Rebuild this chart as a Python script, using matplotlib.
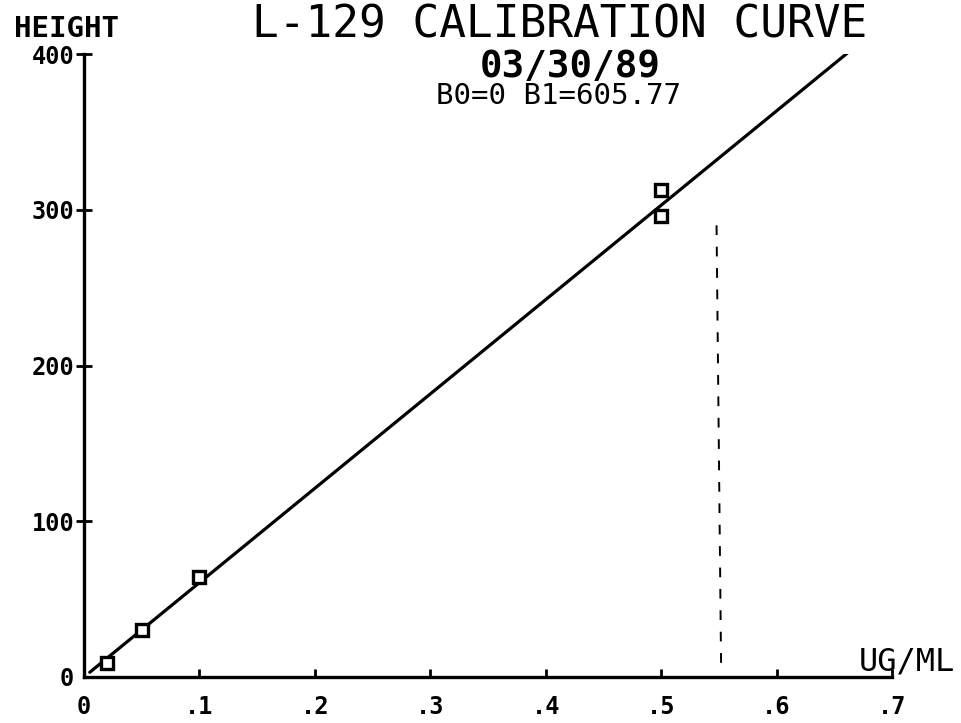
import matplotlib.pyplot as plt
import numpy as np

# calibration points
conc = [0.02, 0.05, 0.10, 0.50, 0.50]
height = [9, 30, 64, 313, 296]

# fitted line Y = B0 + B1 * X
b0 = 0
b1 = 605.77
fit_x = [0.005, 0.665]

# faint vertical reading line near x = .55
read_x = [0.548, 0.552]
read_y = [290, 3]

x_ticks = [0, 0.1, 0.2, 0.3, 0.4, 0.5, 0.6, 0.7]
x_labels = ['0', '.1', '.2', '.3', '.4', '.5', '.6', '.7']
y_ticks = [0, 100, 200, 300, 400]
y_labels = ['0', '100', '200', '300', '400']

plt.rcParams['font.family'] = 'DejaVu Sans Mono'

W, H = 961, 723
fig = plt.figure(figsize=(W / 100, H / 100), dpi=100)
ax = fig.add_axes([84 / W, 1 - 677 / H, (892 - 84) / W, (677 - 54) / H])

fy = [b0 + b1 * x for x in fit_x]
ax.plot(fit_x, fy, color='black', lw=2.3, solid_capstyle='round')
ax.plot(conc, height, linestyle='none', marker='s', ms=9, mfc='white',
        mec='black', mew=2.4)
ax.plot(read_x, read_y, color='black', lw=1.4, linestyle=(0, (5, 6)))

ax.set_xlim(0, 0.7)
ax.set_ylim(0, 400)
for s in ['top', 'right']:
    ax.spines[s].set_visible(False)
for s in ['left', 'bottom']:
    ax.spines[s].set_linewidth(2.4)

ax.set_xticks(x_ticks)
ax.set_xticklabels(x_labels, fontsize=17, fontweight='bold')
ax.set_yticks(y_ticks)
ax.set_yticklabels(y_labels, fontsize=17, fontweight='bold')
ax.tick_params(axis='x', direction='in', length=6, width=2, pad=13)
ax.tick_params(axis='y', direction='inout', length=12, width=2, pad=1)
ax.yaxis.get_major_ticks()[0].tick1line.set_visible(False)

def px(x, y):
    return x / W, 1 - y / H

fig.text(*px(560, 38), 'L-129 CALIBRATION CURVE', fontsize=32,
         ha='center', va='baseline')
fig.text(*px(570, 77), '03/30/89', fontsize=27, fontweight='bold',
         ha='center', va='baseline')
fig.text(*px(558, 104), 'B0=0 B1=605.77', fontsize=21,
         ha='center', va='baseline')
fig.text(*px(14, 37), 'HEIGHT', fontsize=21, fontweight='bold',
         ha='left', va='baseline')
fig.text(*px(955, 671), 'UG/ML', fontsize=23,
         ha='right', va='baseline')

fig.savefig('out.png', dpi=100, facecolor='white')
